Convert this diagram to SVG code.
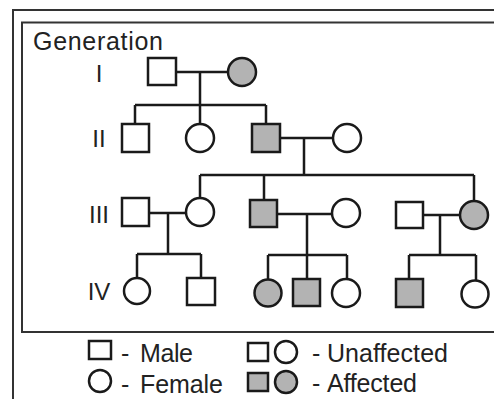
<svg xmlns="http://www.w3.org/2000/svg" width="494" height="399" viewBox="0 0 494 399">
<style>
.n{stroke:#1a1a1a;stroke-width:2.5;fill:#fff}
.a{fill:#b3b3b3}
.c{stroke:#1a1a1a;stroke-width:2.5;fill:none}
.f{stroke:#333;stroke-width:2;fill:none}
text{font-family:"Liberation Sans",Arial,sans-serif;fill:#222}
.t{font-size:25px}
.r{font-size:24px;text-anchor:middle}
</style>
<rect width="494" height="399" fill="#fff"/>
<g id="frames">
<path class="f" d="M13,399 V10 H500"/>
<rect class="f" x="22" y="22.5" width="490" height="309.5"/>
</g>
<text class="t" x="33" y="50" textLength="130">Generation</text>
<g id="labels">
<text class="r" x="99" y="82">I</text>
<text class="r" x="99" y="147">II</text>
<text class="r" x="99" y="223">III</text>
<text class="r" x="99" y="300">IV</text>
</g>
<g id="connectors">
<path class="c" d="M176,72 H228 M200,72 V105 M135,105 H266 M135,105 V124 M200,105 V124 M266,105 V124"/>
<path class="c" d="M280,138 H333 M304,138 V175 M200,175 H474 M200,175 V198 M264,175 V200 M474,175 V201"/>
<path class="c" d="M149,213 H186 M168,213 V254 M137,254 H201 M137,254 V278 M201,254 V278"/>
<path class="c" d="M277,214 H332 M307,214 V279 M268,255 H347 M268,255 V279 M347,255 V279"/>
<path class="c" d="M423,215 H461 M440,215 V255 M409,255 H476 M409,255 V279 M476,255 V280"/>
</g>
<g id="I-1"><rect class="n" x="148" y="58" width="28" height="27"/></g>
<g id="I-2"><circle class="n a" cx="242" cy="72" r="14"/></g>
<g id="II-1"><rect class="n" x="122" y="124" width="27" height="28"/></g>
<g id="II-2"><circle class="n" cx="200" cy="138" r="14"/></g>
<g id="II-3"><rect class="n a" x="252" y="124" width="28" height="28"/></g>
<g id="II-4"><circle class="n" cx="347" cy="138" r="14"/></g>
<g id="III-1"><rect class="n" x="122" y="198" width="27" height="28"/></g>
<g id="III-2"><circle class="n" cx="200" cy="212" r="14"/></g>
<g id="III-3"><rect class="n a" x="250" y="200" width="27" height="27"/></g>
<g id="III-4"><circle class="n" cx="346" cy="213" r="14"/></g>
<g id="III-5"><rect class="n" x="396" y="202" width="27" height="26"/></g>
<g id="III-6"><circle class="n a" cx="474" cy="215" r="14"/></g>
<g id="IV-1"><circle class="n" cx="137" cy="291" r="13"/></g>
<g id="IV-2"><rect class="n" x="187" y="278" width="28" height="27"/></g>
<g id="IV-3"><circle class="n a" cx="268" cy="293" r="13.5"/></g>
<g id="IV-4"><rect class="n a" x="293" y="279" width="27" height="27"/></g>
<g id="IV-5"><circle class="n" cx="346" cy="293" r="14"/></g>
<g id="IV-6"><rect class="n a" x="396" y="279" width="27" height="28"/></g>
<g id="IV-7"><circle class="n" cx="475" cy="294" r="13.5"/></g>
<g id="legend">
<rect class="n" x="89" y="341" width="22" height="18"/>
<text class="t" x="121" y="362">-</text>
<text class="t" x="140" y="362" textLength="53">Male</text>
<circle class="n" cx="100" cy="381" r="11"/>
<text class="t" x="121" y="393">-</text>
<text class="t" x="140" y="393" textLength="83">Female</text>
<rect class="n" x="248" y="343" width="20" height="18"/>
<circle class="n" cx="286" cy="352" r="11"/>
<text class="t" x="312" y="362">-</text>
<text class="t" x="327" y="362" textLength="121">Unaffected</text>
<rect class="n a" x="248" y="373" width="20" height="18"/>
<circle class="n a" cx="286" cy="382" r="11"/>
<text class="t" x="312" y="392">-</text>
<text class="t" x="327" y="392" textLength="90">Affected</text>
</g>
</svg>
